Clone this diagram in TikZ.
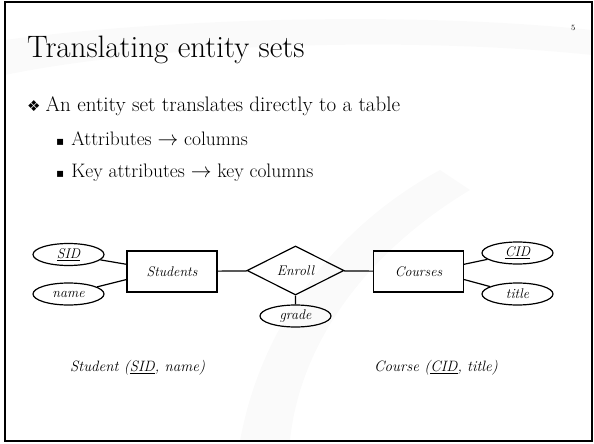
\documentclass[tikz,border=0pt]{standalone}
\usepackage{fontspec}
\newfontfamily\symfont{DejaVu Sans}
\usetikzlibrary{shapes.geometric}
\tikzset{
	entity/.style={draw,line width=1.2pt,minimum width=90pt,minimum height=41pt,inner sep=0pt,font=\fontsize{14}{16}\selectfont\itshape},
	attrib/.style={draw,ellipse,line width=1.2pt,minimum width=71pt,minimum height=22pt,inner sep=0pt,font=\fontsize{14}{16}\selectfont\itshape},
	relship/.style={draw,diamond,aspect=2,line width=1.2pt,minimum width=97pt,minimum height=49pt,inner sep=0pt,font=\fontsize{14}{16}\selectfont\itshape},
	slidetext/.style={anchor=base west,inner sep=0pt},
	link/.style={line width=1.2pt}
}
\begin{document}
\begin{tikzpicture}[x=1pt,y=-1pt]
	\useasboundingbox (0,0) rectangle (594,444);
	\fill[black!2] (5,40) .. controls (150,20) and (400,10) .. (592,30) -- (592,55) .. controls (400,35) and (150,45) .. (5,75) -- cycle;
	\fill[black!2] (240,441) .. controls (260,330) and (330,230) .. (440,170) -- (470,190) .. controls (370,250) and (300,340) .. (290,441) -- cycle;
	\draw[line width=2pt] (5,2) rectangle (592,441);
	\node[slidetext,font=\fontsize{8}{9}\selectfont] (pageno) at (571,31) {5};
	\node[slidetext,font=\fontsize{31}{34}\selectfont] (title) at (27,57) {Translating entity sets};
	\node[slidetext,font=\fontsize{21}{24}\selectfont] (item) at (27,111) {{\symfont\fontsize{15}{15}\selectfont ❖}\hspace{5pt}An entity set translates directly to a table};
	\node[slidetext,font=\fontsize{19.5}{22}\selectfont] (subA) at (56,145) {{\symfont\fontsize{12}{14}\selectfont ▪}\hspace{7pt}Attributes $\rightarrow$ columns};
	\node[slidetext,font=\fontsize{19.5}{22}\selectfont] (subB) at (56,177) {{\symfont\fontsize{12}{14}\selectfont ▪}\hspace{7pt}Key attributes $\rightarrow$ key columns};
	\node[entity] (students) at (172,271.5) {Students};
	\node[entity] (courses) at (418.5,271.5) {Courses};
	\node[relship] (enroll) at (295.5,270.5) {Enroll};
	\node[attrib] (sid) at (68.5,254.5) {\underline{SID}};
	\node[attrib] (name) at (68.5,294) {name};
	\node[attrib] (grade) at (295.5,316) {grade};
	\node[attrib] (cid) at (517.5,253) {\underline{CID}};
	\node[attrib] (ctitle) at (517.5,294) {title};
	\draw[link] (sid)--(students.171) (name)--(students.190)
		(students)--(enroll)--(courses) (enroll)--(grade)
		(cid)--(courses.9) (ctitle)--(courses.350);
	\node[slidetext,font=\fontsize{15}{17}\selectfont\itshape] (studrel) at (70,371) {Student (\underline{SID}, name)};
	\node[slidetext,font=\fontsize{15}{17}\selectfont\itshape] (courserel) at (374,371) {Course (\underline{CID}, title)};
\end{tikzpicture}
\end{document}
